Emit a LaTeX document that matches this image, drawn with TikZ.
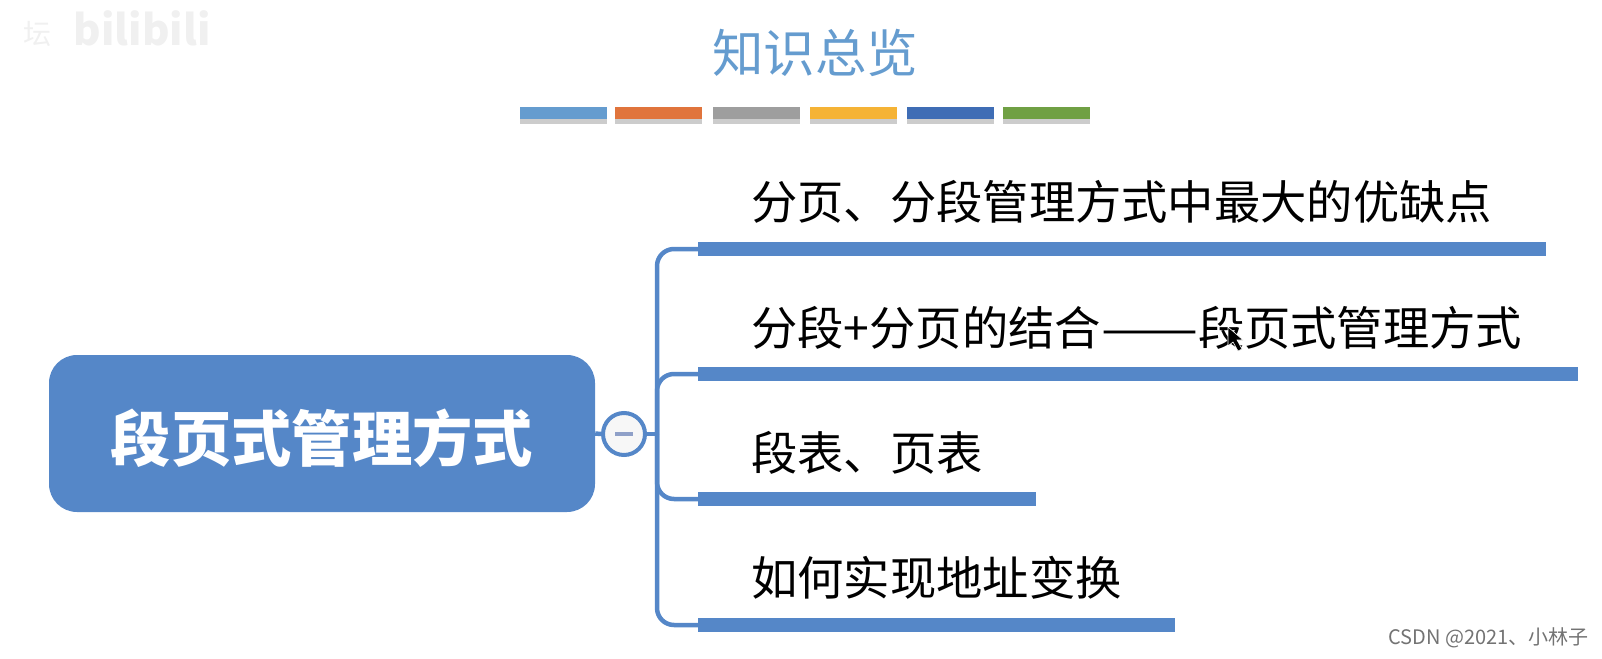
\documentclass[tikz,border=0pt]{standalone}
\usepackage{fontspec}
\setmainfont{Noto Sans CJK SC}
\usetikzlibrary{positioning, shadows}
\definecolor{mapblue}{HTML}{5587C8}
\definecolor{titleblue}{HTML}{659CCF}
\definecolor{foldminus}{HTML}{8FA0C8}
\definecolor{barorange}{HTML}{E0743C}
\definecolor{bargray}{HTML}{9E9E9E}
\definecolor{baryellow}{HTML}{F5B335}
\definecolor{barblue}{HTML}{3F6DB5}
\definecolor{bargreen}{HTML}{70A044}
\tikzset{
	rootbox/.style={fill=mapblue,rounded corners=28pt,minimum width=546pt,minimum height=157pt,inner sep=0pt,text=white,font=\fontsize{60.3}{62}\selectfont\bfseries},
	foldcircle/.style={circle,draw=mapblue,line width=4pt,fill=black!3,minimum size=42pt,inner sep=0pt},
	branchbar/.style={fill=mapblue,minimum height=14pt,inner sep=0pt,anchor=west},
	branchline/.style={draw=mapblue,line width=4.5pt,rounded corners=17pt},
	branchtext/.style={font=\fontsize{46.3}{48}\selectfont,inner sep=0pt,anchor=west},
	colorbar/.style={minimum width=87pt,minimum height=12pt,inner sep=0pt,anchor=west,drop shadow={shadow xshift=0pt,shadow yshift=-5pt,opacity=.2,fill=black}},
}
\begin{document}
\begin{tikzpicture}[x=1pt,y=-1pt]
	\useasboundingbox (0,0) rectangle (1602,658);
	\node [font=\fontsize{51.5}{54}\selectfont,text=titleblue] (title) at (815,53) {知识总览};
	\node [colorbar,fill=titleblue] (bar1) at (520,113) {};
	\node [colorbar,fill=barorange] (bar2) at (615,113) {};
	\node [colorbar,fill=bargray] (bar3) at (713,113) {};
	\node [colorbar,fill=baryellow] (bar4) at (810,113) {};
	\node [colorbar,fill=barblue] (bar5) at (907,113) {};
	\node [colorbar,fill=bargreen] (bar6) at (1003,113) {};

	\node [rootbox] (root) at (322,433.5) {\raisebox{-28pt}[0pt][0pt]{段页式管理方式}};
	\node [foldcircle] (fold) at (624,434) {};
	\coordinate (trunk) at (657,434);
	\node [branchbar,minimum width=848pt] (one) at (698,249) {};
	\node [branchbar,minimum width=880pt] (two) at (698,374) {};
	\node [branchbar,minimum width=338pt] (three) at (698,499) {};
	\node [branchbar,minimum width=477pt] (four) at (698,625) {};

	\draw [branchline] (root.east) -- (fold.west);
	\draw [branchline] (fold.east) -- (trunk);
	\foreach \n in {one,two,three,four}
		\draw [branchline] (trunk) |- (\n.west);
	\draw [color=foldminus,line width=4pt] ([xshift=-9pt]fold.center) -- ([xshift=9pt]fold.center);

	\node [branchtext] (onetext) at (751,202) {分页、分段管理方式中最大的优缺点};
	\node [branchtext] (twotext) at (751,328) {分段+分页的结合\scalebox{1.25}[1]{——}段页式管理方式};
	\node [branchtext] (threetext) at (751,453) {段表、页表};
	\node [branchtext] (fourtext) at (751,578) {如何实现地址变换};

	% mouse pointer over the second line
	\fill [black,draw=white,line width=.6pt] (1228,327) -- (1228,346) -- (1233,342) -- (1238,351) -- (1242,349) -- (1237,340) -- (1243,340) -- cycle;

	\node [font=\fontsize{20}{22}\selectfont,text=black!55,anchor=east,inner sep=0pt] (mark) at (1589,638) {CSDN @2021、小林子};
	\node [font=\fontsize{42}{44}\selectfont\bfseries,text=black!6,anchor=west] (logo) at (70,28) {bilibili};
	\node [font=\fontsize{28}{30}\selectfont,text=black!6,anchor=west] (site) at (20,34) {坛};
\end{tikzpicture}
\end{document}
